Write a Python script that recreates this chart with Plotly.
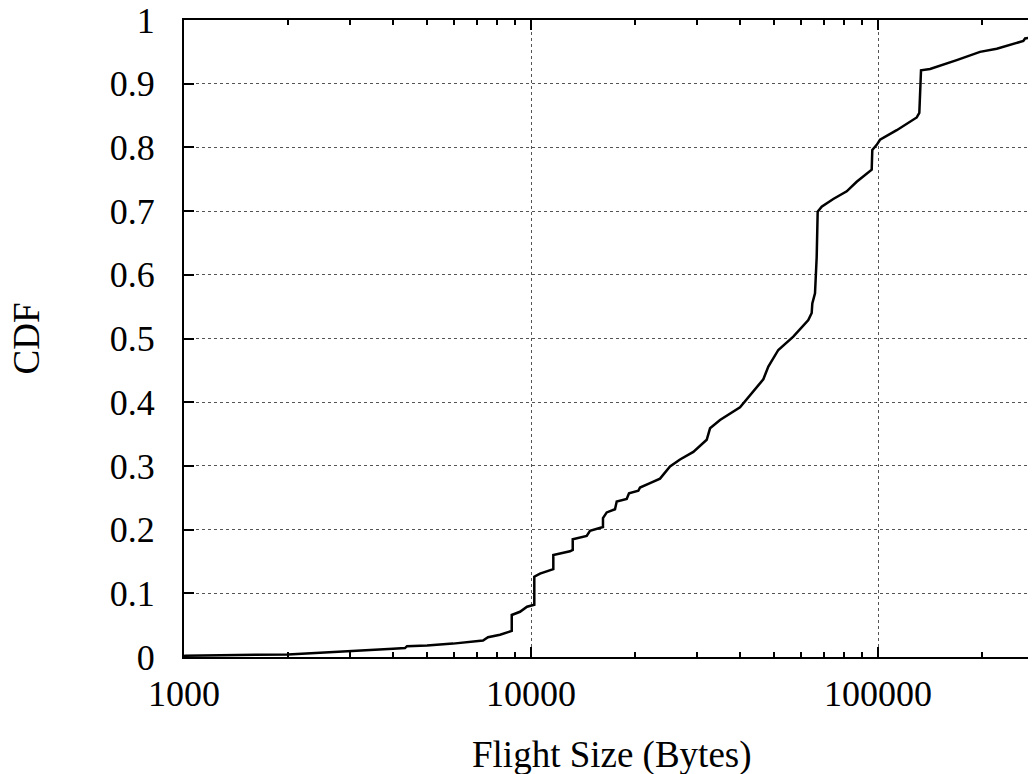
import plotly.graph_objects as go

# CDF of flight sizes
flight_size = [1000, 1007, 1994, 3009, 4003, 4334, 4392, 5016, 5960, 7273, 7518, 8143, 8700, 8800, 8800,
               9297, 9739, 10221, 10221, 10615, 11596, 11596, 12952, 13190, 13190, 14470, 14791, 15982,
               16122, 16122, 16526, 17462, 17660, 18870, 19160, 20382, 20613, 22030, 23540, 25155, 26880,
               29363, 32090, 32806, 35050, 40027, 46717, 48300, 51600, 57000, 62970, 64400, 64670, 65830,
               66570, 67010, 68810, 74320, 81250, 86810, 95900, 96280, 99150, 101350, 113220, 129290,
               131540, 133030, 141250, 168600, 196770, 219900, 262300, 265300, 300000]
cdf = [0.0, 0.002, 0.004, 0.010, 0.013, 0.014, 0.017, 0.018, 0.021, 0.026, 0.031, 0.035, 0.041, 0.041, 0.066,
       0.071, 0.079, 0.082, 0.126, 0.131, 0.138, 0.160, 0.166, 0.168, 0.185, 0.190, 0.198, 0.204,
       0.204, 0.218, 0.227, 0.232, 0.244, 0.248, 0.257, 0.261, 0.266, 0.273, 0.280, 0.299, 0.310,
       0.322, 0.341, 0.359, 0.372, 0.392, 0.436, 0.456, 0.482, 0.503, 0.529, 0.540, 0.555, 0.571,
       0.628, 0.699, 0.707, 0.719, 0.731, 0.746, 0.765, 0.796, 0.804, 0.812, 0.827, 0.847,
       0.854, 0.921, 0.923, 0.937, 0.950, 0.955, 0.967, 0.971, 0.975]

x_major = [1000, 10000, 100000]
x_major_text = ["1000", "10000", "100000"]
x_minor = [m * d for d in (1000, 10000, 100000) for m in range(2, 10)]
y_ticks = [round(i * 0.1, 1) for i in range(11)]
y_text = ["0", "0.1", "0.2", "0.3", "0.4", "0.5", "0.6", "0.7", "0.8", "0.9", "1"]
x_title = "Flight Size (Bytes)"
y_title = "CDF"

FONT = "Liberation Serif, Times New Roman, serif"

fig = go.Figure()
fig.add_trace(go.Scatter(x=flight_size, y=cdf, mode="lines",
                         line=dict(color="black", width=2.5), showlegend=False))

fig.update_layout(
    width=1028, height=766,
    margin=dict(l=176, r=0, t=12, b=117),
    paper_bgcolor="white", plot_bgcolor="white",
    font=dict(family=FONT, size=36, color="black"),
)
fig.update_xaxes(
    type="log", range=[3, 5.4553], automargin=False,
    tickmode="array", tickvals=x_major, ticktext=x_major_text,
    ticks="inside", ticklen=10, tickwidth=1.5, tickcolor="black",
    showline=True, linecolor="black", linewidth=2, mirror="ticks",
    showgrid=True, gridcolor="#555555", griddash="dot", gridwidth=1,
    minor=dict(tickmode="array", tickvals=x_minor, ticks="inside", ticklen=5,
               tickcolor="black", tickwidth=1.5, showgrid=False),
    zeroline=False, ticklabelstandoff=4, ticklabeloverflow="allow",
)
fig.update_yaxes(
    range=[0, 1], automargin=False,
    tickmode="array", tickvals=y_ticks, ticktext=y_text,
    ticks="inside", ticklen=10, tickwidth=1.5, tickcolor="black",
    showline=True, linecolor="black", linewidth=2, mirror=False,
    showgrid=True, gridcolor="#555555", griddash="dot", gridwidth=1,
    zeroline=False, ticklabelstandoff=20, ticklabeloverflow="allow",
)

# axis titles
fig.add_annotation(text=x_title, xref="paper", yref="paper", x=0.502, y=0,
                   xanchor="center", yanchor="middle", yshift=-98, showarrow=False,
                   font=dict(family=FONT, size=37, color="black"))
fig.add_annotation(text=y_title, xref="paper", yref="paper", x=0, y=0.5,
                   xanchor="center", yanchor="middle", xshift=-158, textangle=-90,
                   showarrow=False, font=dict(family=FONT, size=37, color="black"))

fig.write_html("out.html")
